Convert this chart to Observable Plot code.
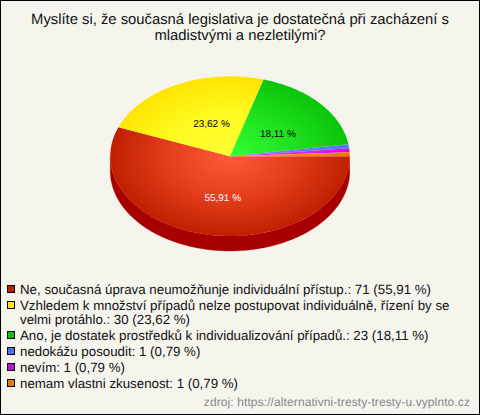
<!DOCTYPE html>
<html><head><meta charset="utf-8">
<script src="https://cdn.jsdelivr.net/npm/d3@7"></script>
<script src="https://cdn.jsdelivr.net/npm/@observablehq/plot@0.6"></script>
<style>
html,body{margin:0;padding:0;background:#f5f5ee}
#frame{position:relative;width:478px;height:413px;border:1px solid #000;background:#f5f5ee;overflow:hidden;font-family:"Liberation Sans",Arial,sans-serif;color:#111;text-rendering:geometricPrecision}
#title{position:absolute;left:0;top:12px;width:478px;text-align:center;font-size:14.8px;line-height:15.5px}
#chart{position:absolute;left:-1px;top:-1px}
#chart svg text{text-rendering:geometricPrecision}
#legend{position:absolute;left:6px;top:282px;width:448px;font-size:13.3px;line-height:14px}
.item{position:relative;padding-left:13px;margin-bottom:2px}
.sw{position:absolute;left:0;top:2px;width:6px;height:6px;border:1px solid #000}
#source{position:absolute;right:9px;top:394px;font-size:12px;color:#888;line-height:14px;letter-spacing:.1px}
</style></head><body>
<div id="frame">
<div id="title">Myslíte si, že současná legislativa je dostatečná při zacházení s<br>mladistvými a nezletilými?</div>
<div id="chart"></div>
<div id="legend"></div>
<div id="source">zdroj: https://alternativni-tresty-tresty-u.vyplnto.cz</div>
</div>
<script>
const categories = ["Ne, současná úprava neumožňunje individuální přístup.","Vzhledem k množství případů nelze postupovat individuálně, řízení by se velmi protáhlo.","Ano, je dostatek prostředků k individualizování případů.","nedokážu posoudit","nevím","nemam vlastni zkusenost"];
const counts = [71,30,23,1,1,1];
const percents = ["55,91","23,62","18,11","0,79","0,79","0,79"];
const swatchColors = ["#c02000","#ffe800","#0ac40a","#4a70f0","#c010d0","#e87800"];
const centerColors = ["#ff5a3a","#ffff33","#33ff33","#6688ff","#ee44ff","#ff9922"];
const midColors = ["#e23c1c","#fffa20","#1fe11f","#5d7fff","#dd2aee","#f68810"];
const edgeColors = ["#c02000","#ffe400","#0ac40a","#5577ff","#cc11dd","#ee7700"];
const labelColors = ["#fff","#000","#000"];
const labelFactors = [[0.33,0.53],[0.35,0.45],[0.53,0.42]];
const wallColor = "#a80000";

const total = d3.sum(counts);
const depth = 15/80;
const starts = d3.cumsum([0,...counts]);
const slices = categories.map((c,i)=>({i,a0:starts[i]/total*2*Math.PI,a1:starts[i+1]/total*2*Math.PI}));
function arc(a0,a1){const n=Math.max(2,Math.ceil((a1-a0)/0.02));return d3.range(n+1).map(k=>a0+(a1-a0)*k/n);}
const slicePts = s=>[[0,0],...arc(s.a0,s.a1).map(a=>[Math.cos(a),Math.sin(a)])];
const wall = slices.flatMap(s=>{
  const a1=Math.min(s.a1,Math.PI); if(s.a0>=a1) return [];
  const top=arc(s.a0,a1).map(a=>[Math.cos(a),Math.sin(a)]);
  return [{i:s.i,pts:[...top,...top.slice().reverse().map(([x,y])=>[x,y+depth])]}];
});
const labels = slices.slice(0,3).map((s,i)=>{const m=(s.a0+s.a1)/2;return{x:Math.cos(m)*labelFactors[i][0],y:Math.sin(m)*labelFactors[i][1],t:percents[i]+" %",c:labelColors[i]};});

const defs = (index,{x,y})=>{
  const rx=(x(1)-x(-1))/2, ry=(y(1)-y(-1))/2;
  const g=d3.create("svg:defs");
  categories.forEach((c,i)=>{
    const r=g.append("radialGradient").attr("id","g"+i).attr("gradientUnits","userSpaceOnUse")
      .attr("cx",0).attr("cy",0).attr("r",1)
      .attr("gradientTransform",`translate(${x(0)},${y(0)}) scale(${rx},${ry})`);
    r.append("stop").attr("offset",0).attr("stop-color",centerColors[i]);
    r.append("stop").attr("offset",0.55).attr("stop-color",midColors[i]);
    r.append("stop").attr("offset",1).attr("stop-color",edgeColors[i]);
  });
  return g.node();
};
const plot = Plot.plot({
  width:480,height:275,margin:0,
  x:{domain:[-1,1],range:[110,350],axis:null},
  y:{domain:[-1,1],range:[76,236],axis:null},
  marks:[
    defs,
    ...wall.map(w=>Plot.line(w.pts,{x:"0",y:"1",fill:wallColor,stroke:wallColor,strokeWidth:0.3})),
    ...slices.map(s=>Plot.line(slicePts(s),{x:"0",y:"1",fill:`url(#g${s.i})`,stroke:"none"})),
    Plot.text(labels,{x:"x",y:"y",text:"t",fill:"c",fontSize:10,fontFamily:"Liberation Sans"})
  ]
});
document.getElementById("chart").append(plot);
const lg=document.getElementById("legend");
categories.forEach((c,i)=>{
  const d=document.createElement("div");d.className="item";
  d.innerHTML=`<span class="sw" style="background:${swatchColors[i]}"></span>${c}: ${counts[i]} (${percents[i]} %)`;
  lg.append(d);
});
</script></body></html>
